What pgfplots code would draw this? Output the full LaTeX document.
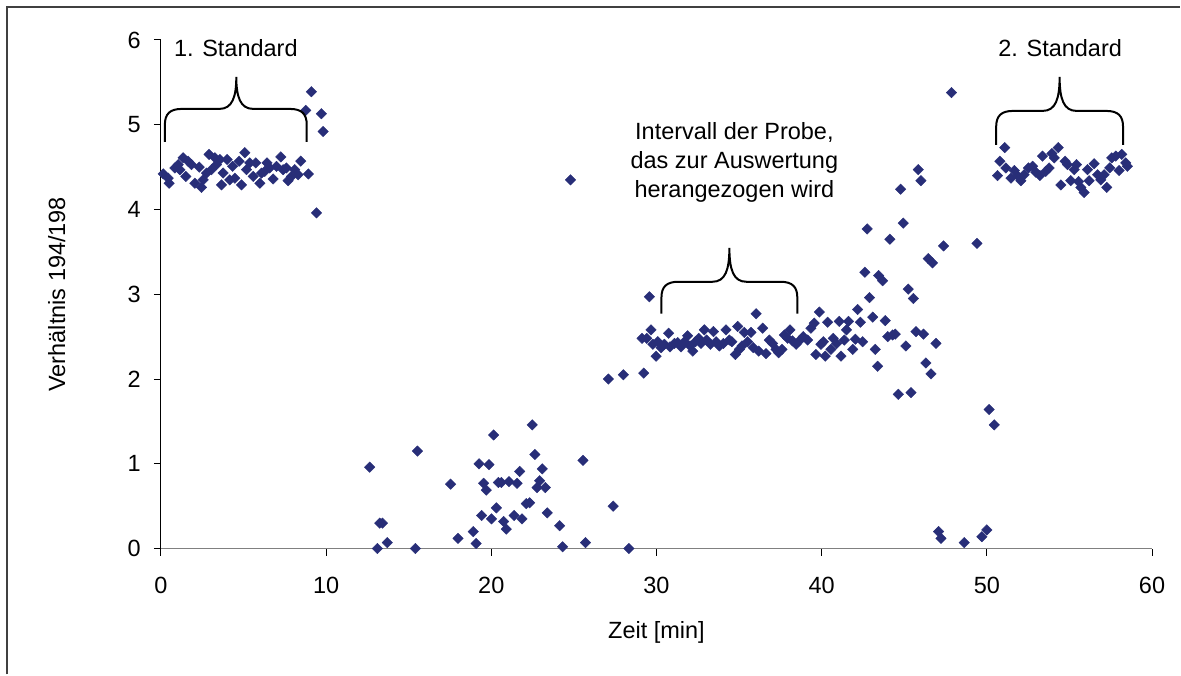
\documentclass[border=0pt]{standalone}
\usepackage{fontspec}
\setmainfont{Liberation Sans}
\usepackage{pgfplots}
\pgfplotsset{compat=1.18}
\definecolor{navy}{RGB}{40,46,120}
\definecolor{framegray}{RGB}{64,64,64}
\definecolor{axgray}{RGB}{128,128,128}
\pgfplotstableread{
x y
0.14 4.42
0.44 4.37
0.50 4.31
0.85 4.49
1.05 4.53
1.15 4.47
1.35 4.61
1.51 4.39
1.65 4.57
1.85 4.53
2.06 4.31
2.32 4.50
2.46 4.26
2.56 4.35
2.76 4.43
2.92 4.65
3.06 4.47
3.27 4.61
3.37 4.53
3.57 4.59
3.67 4.29
3.77 4.43
4.01 4.59
4.17 4.35
4.34 4.51
4.48 4.37
4.74 4.57
4.88 4.29
5.08 4.67
5.18 4.47
5.38 4.55
5.59 4.39
5.75 4.55
5.99 4.31
6.09 4.43
6.29 4.45
6.43 4.55
6.59 4.49
6.79 4.36
7.00 4.51
7.26 4.62
7.40 4.47
7.60 4.49
7.70 4.34
7.90 4.39
8.10 4.47
8.31 4.41
8.47 4.57
8.93 4.42
8.77 5.17
9.11 5.39
9.42 3.96
9.72 5.13
9.82 4.92
12.64 0.96
13.11 0.00
13.25 0.30
13.41 0.30
13.71 0.07
15.41 0.00
15.53 1.15
17.54 0.76
17.99 0.12
18.91 0.20
19.08 0.06
19.26 1.00
19.42 0.39
19.54 0.77
19.70 0.69
19.86 0.99
20.02 0.35
20.14 1.34
20.31 0.48
20.43 0.78
20.61 0.78
20.75 0.32
20.91 0.23
21.07 0.79
21.39 0.39
21.56 0.77
21.72 0.91
21.86 0.35
22.12 0.53
22.32 0.54
22.48 1.46
22.64 1.11
22.77 0.72
22.93 0.80
23.09 0.94
23.27 0.72
23.39 0.42
24.14 0.27
24.32 0.02
24.80 4.35
25.55 1.04
25.71 0.07
27.09 2.00
27.38 0.50
28.00 2.05
28.33 0.00
29.23 2.07
29.13 2.48
29.41 2.48
29.57 2.97
29.67 2.58
29.78 2.41
29.98 2.27
30.08 2.44
30.28 2.37
30.48 2.41
30.74 2.54
30.82 2.38
31.09 2.42
31.29 2.43
31.49 2.38
31.69 2.44
31.89 2.51
32.03 2.39
32.20 2.33
32.36 2.44
32.56 2.48
32.70 2.42
32.90 2.58
33.04 2.46
33.26 2.41
33.45 2.56
33.61 2.44
33.81 2.39
34.05 2.42
34.21 2.58
34.41 2.46
34.57 2.44
34.78 2.29
34.92 2.62
35.02 2.35
35.18 2.39
35.32 2.55
35.52 2.44
35.72 2.55
35.86 2.37
36.03 2.77
36.19 2.33
36.43 2.60
36.63 2.30
36.83 2.46
37.03 2.42
37.24 2.35
37.40 2.31
37.60 2.35
37.74 2.52
37.94 2.48
38.08 2.58
38.24 2.45
38.45 2.41
38.65 2.45
38.89 2.50
39.15 2.46
39.35 2.60
39.55 2.66
39.65 2.29
39.86 2.79
39.96 2.41
40.10 2.44
40.22 2.27
40.36 2.67
40.56 2.35
40.70 2.48
40.91 2.42
41.07 2.68
41.17 2.27
41.37 2.46
41.51 2.58
41.63 2.68
41.88 2.35
42.04 2.47
42.18 2.82
42.34 2.67
42.48 2.44
42.62 3.26
42.76 3.77
42.90 2.96
43.09 2.73
43.25 2.35
43.39 2.15
43.45 3.22
43.69 3.16
43.85 2.69
44.00 2.50
44.13 3.65
44.30 2.52
44.46 2.53
44.64 1.82
44.78 4.24
44.94 3.84
45.10 2.39
45.24 3.06
45.41 1.84
45.55 2.95
45.71 2.56
45.85 4.47
46.01 4.34
46.17 2.53
46.31 2.19
46.45 3.42
46.62 2.06
46.71 3.37
46.92 2.42
47.08 0.20
47.22 0.12
47.38 3.57
47.86 5.38
48.63 0.07
49.40 3.60
49.70 0.14
50.00 0.22
50.14 1.64
50.45 1.46
50.65 4.40
50.79 4.57
51.09 4.73
51.15 4.49
51.46 4.37
51.66 4.46
51.86 4.40
52.06 4.34
52.26 4.41
52.52 4.49
52.77 4.51
52.97 4.44
53.21 4.40
53.37 4.63
53.57 4.45
53.77 4.49
53.94 4.66
54.08 4.61
54.32 4.73
54.48 4.29
54.74 4.57
54.88 4.53
55.08 4.34
55.29 4.47
55.43 4.53
55.55 4.33
55.69 4.26
55.89 4.20
56.09 4.47
56.19 4.34
56.50 4.54
56.70 4.41
56.90 4.35
57.10 4.41
57.26 4.26
57.44 4.49
57.56 4.61
57.81 4.63
58.01 4.46
58.17 4.65
58.41 4.55
58.51 4.51
}\datatable
\newcommand{\bracepath}[6]{% L, R, C, bottom, mid, tip (pixel units)
  \draw[black, line width=1pt]
    (#1,#4) -- (#1,#5+16) .. controls (#1,#5+5) and (#1+5,#5) .. (#1+17,#5)
    -- (#3-17,#5) .. controls (#3-4,#5) and (#3,#5-12) .. (#3,#6)
    .. controls (#3,#5-12) and (#3+4,#5) .. (#3+17,#5)
    -- (#2-17,#5) .. controls (#2-5,#5) and (#2,#5+5) .. (#2,#5+16) -- (#2,#4);
}
\newcommand{\chartfont}{\fontsize{11.75}{14}\selectfont}
\begin{document}
\chartfont
\begin{tikzpicture}
\begin{scope}[x=0.5pt,y=-0.5pt]
\path (0,0) rectangle (1181,675);
\draw[framegray, line width=1pt] (7,675) -- (7,7) -- (1181,7);
\end{scope}
\begin{axis}[
  at={(80.5pt,-274.5pt)}, anchor=south west,
  scale only axis, width=496pt, height=254.5pt,
  xmin=0, xmax=60, ymin=0, ymax=6,
  axis x line*=bottom, axis y line*=left,
  xtick={0,10,...,60}, ytick={0,1,...,6},
  tick align=outside, major tick length=3.5pt,
  x axis line style={draw=axgray, line width=0.9pt, -},
  y axis line style={draw=black, line width=0.5pt, -},
  every tick/.style={black, line width=0.5pt},
  /pgf/number format/assume math mode=true,
  tick label style={font=\chartfont},
  xticklabel style={yshift=-6.5pt},
  yticklabel style={xshift=-2.5pt},
  xlabel={Zeit [min]}, ylabel={Verhältnis 194/198},
  label style={font=\chartfont},
  x label style={at={(axis description cs:0.5,-0.165)}, anchor=center},
  y label style={at={(axis description cs:-0.105,0.5)}, anchor=center},
  clip=false,
]
\addplot[only marks, mark=square*, mark size=1.85pt,
  mark options={rotate=45, fill=navy, draw=navy, line width=0.2pt}] table[x=x, y=y] {\datatable};
\end{axis}
\begin{scope}[x=0.5pt,y=-0.5pt]
\node[font=\chartfont] at (236,48) {1. Standard};
\node[font=\chartfont] at (1061,48) {2. Standard};
\node[align=center, font=\fontsize{11.75}{14.5}\selectfont] at (735,163) {Intervall der Probe,\\das zur Auswertung\\herangezogen wird};
\bracepath{165}{307}{236.5}{142}{109}{77}
\bracepath{662}{798}{730}{314}{282}{248}
\bracepath{997}{1124}{1060.5}{145}{111}{77}
\end{scope}
\end{tikzpicture}
\end{document}
